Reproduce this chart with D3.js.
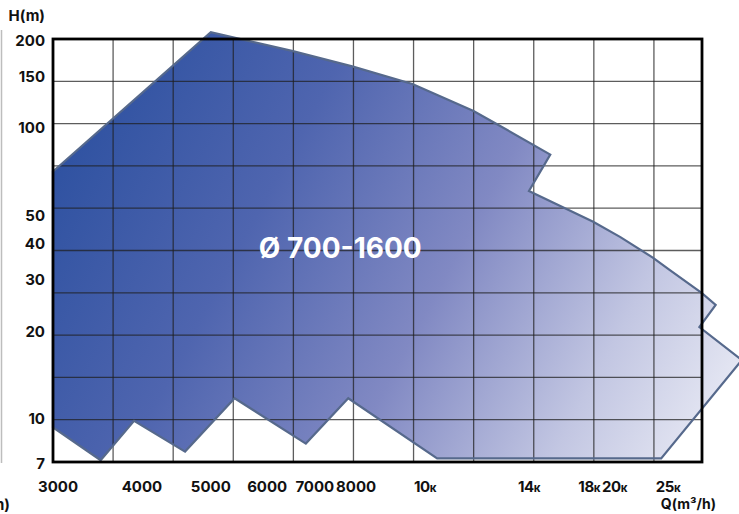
<!DOCTYPE html>
<html><head><meta charset="utf-8">
<script src="https://cdn.jsdelivr.net/npm/d3@7"></script>
<style>
html,body{margin:0;padding:0;background:#fff;overflow:hidden;}
svg{display:block;font-family:Inter,"Open Sans",sans-serif;font-variant-numeric:proportional-nums;}
</style>
</head><body><div id="chart"></div>
<script>
// ---- data ----
const xTicks = [3000, 4000, 5000, 6000, 7000, 8000, 10000, 14000, 18000, 20000, 25000];
const xTickLabels = ["3000", "4000", "5000", "6000", "7000", "8000", "10к", "14к", "18к", "20к", "25к"];
const yTicks = [7, 10, 20, 30, 40, 50, 100, 150, 200];
const yTickLabels = ["7", "10", "20", "30", "40", "50", "100", "150", "200"];
// performance envelope (Q in m3/h, H in m), clockwise from left edge
const envQ = [3000, 5000, 6500, 7900, 9600, 11700, 12700, 15300, 14000, 18300, 20500, 23500, 25200, 28800, 30500, 28500, 34000, 24300, 10400, 7800, 6800, 5400, 4600, 3900, 3500, 3000];
const envH = [70, 211, 182, 161, 140, 113, 101, 80, 60, 47, 41.6, 35.3, 32, 26.7, 24.3, 20.4, 15.7, 7.2, 7.2, 11.6, 8.1, 11.6, 7.6, 9.7, 7.1, 9.2];
const rangeLabel = "Ø 700-1600";
const rangeLabelQ = 7600, rangeLabelH = 35.3;
const xTitle = "Q(m³/h)";
const yTitle = "H(m)";

// ---- layout ----
const W = 739, H = 514;
const m = {left: 53, top: 39, right: 702, bottom: 462};
const pw = m.right - m.left;

const svg = d3.select("#chart").append("svg").attr("width", W).attr("height", H);

const x = d3.scaleLog().domain([3000, 14000, 25000]).range([m.left, m.left + 0.7334 * pw, m.left + 0.9476 * pw]);
const y = d3.scaleLog().domain([7, 200]).range([m.bottom, m.top]);
const gx = d3.scaleLinear().domain([0, 10.8]).range([m.left, m.right]);
const gy = d3.scaleLinear().domain([0, 10]).range([m.top, m.bottom]);

const defs = svg.append("defs");
const grad = defs.append("linearGradient").attr("id", "fillGrad")
  .attr("gradientUnits", "userSpaceOnUse")
  .attr("x1", 53).attr("y1", 100).attr("x2", 740).attr("y2", 470);
[[0, "#2a4f9f"], [0.3, "#4f65af"], [0.55, "#8189c3"], [0.78, "#c2c6e2"], [1, "#f2f3f9"]]
  .forEach(([o, c]) => grad.append("stop").attr("offset", o).attr("stop-color", c));

const pts = envQ.map((q, i) => [x(q), y(envH[i])]);
const line = d3.line().curve(d3.curveLinearClosed);

// fill
svg.append("path").attr("d", line(pts)).attr("fill", "url(#fillGrad)");

// grid
const grid = svg.append("g").attr("stroke", "#1e1e1e").attr("stroke-opacity", 0.72).attr("stroke-width", 1.3);
d3.range(1, 11).forEach(i => grid.append("line").attr("x1", gx(i)).attr("x2", gx(i)).attr("y1", m.top).attr("y2", m.bottom));
d3.range(1, 10).forEach(i => grid.append("line").attr("x1", m.left).attr("x2", m.right).attr("y1", gy(i)).attr("y2", gy(i)));

// envelope outline
svg.append("path").attr("d", line(pts)).attr("fill", "none")
  .attr("stroke", "#56698c").attr("stroke-width", 2.2).attr("stroke-linejoin", "miter");

// frame
svg.append("rect").attr("x", m.left).attr("y", m.top).attr("width", pw).attr("height", m.bottom - m.top)
  .attr("fill", "none").attr("stroke", "#000").attr("stroke-width", 2.8);

// y tick labels
svg.append("g").selectAll("text").data(yTicks).join("text")
  .attr("x", 45).attr("y", d => y(d) + 7)
  .attr("text-anchor", "end").attr("font-size", 15).attr("font-weight", 700).attr("fill", "#111")
  .text((d, i) => yTickLabels[i]);
svg.append("text").attr("x", 45).attr("y", 21).attr("text-anchor", "end")
  .attr("font-size", 15).attr("font-weight", 700).attr("fill", "#111").text(yTitle);

// x tick labels (thousand suffix drawn smaller)
const xl = svg.append("g").selectAll("text").data(xTicks).join("text")
  .attr("x", d => x(d)).attr("y", 492).attr("dx", (d, i) => i === 0 ? 5 : 0)
  .attr("text-anchor", "middle").attr("font-size", 15).attr("font-weight", 700).attr("fill", "#111");
xl.each(function(d, i) {
  const s = xTickLabels[i];
  const t = d3.select(this);
  if (s.endsWith("к")) {
    t.attr("letter-spacing", -0.4);
    t.append("tspan").text(s.slice(0, -1));
    t.append("tspan").attr("font-size", 11.5).text("к");
  } else {
    t.text(s);
  }
});
svg.append("text").attr("x", 716).attr("y", 509).attr("text-anchor", "end")
  .attr("font-size", 14).attr("font-weight", 700).attr("fill", "#111").text(xTitle);

// neighbouring chart remnants
svg.append("text").attr("x", 10).attr("y", 510).attr("text-anchor", "end")
  .attr("font-size", 15).attr("font-weight", 700).attr("fill", "#111").text(xTitle);
svg.append("line").attr("x1", 1.5).attr("x2", 1.5).attr("y1", 30).attr("y2", 463)
  .attr("stroke", "#bdbdbd").attr("stroke-width", 1.5);

// range label
svg.append("text").attr("x", x(rangeLabelQ)).attr("y", y(rangeLabelH))
  .attr("text-anchor", "middle").attr("font-size", 28).attr("font-weight", 700).attr("fill", "#fff")
  .text(rangeLabel);
</script>
</body></html>
